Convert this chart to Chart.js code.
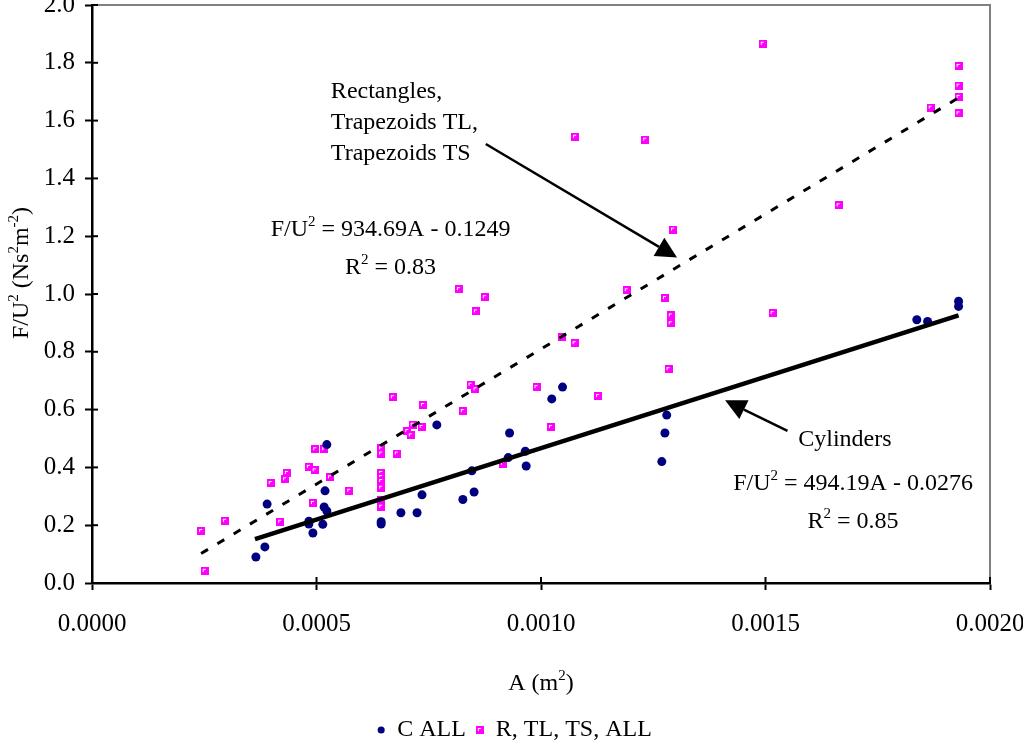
<!DOCTYPE html>
<html>
<head>
<meta charset="utf-8">
<script src="https://cdn.jsdelivr.net/npm/chart.js@4.4.0/dist/chart.umd.min.js"></script>
<style>
html, body { margin: 0; padding: 0; background: #fff; }
#wrap { width: 1023px; height: 744px; }
</style>
</head>
<body>
<div id="wrap"><canvas id="drag-chart"></canvas></div>
<script>
// cylinders (C ALL)
const cylArea = [0.000365, 0.000385, 0.000390, 0.000483, 0.000483, 0.000492, 0.000519, 0.000523, 0.000517, 0.000523,
    0.000514, 0.000644, 0.000644, 0.000688, 0.000724, 0.000735, 0.000768, 0.000826, 0.000851, 0.000846,
    0.000930, 0.000927, 0.000965, 0.000967, 0.001024, 0.001048, 0.001269, 0.001276, 0.001280, 0.001837,
    0.001861, 0.001930, 0.001930];
const cylForce = [0.090, 0.125, 0.273, 0.214, 0.204, 0.173, 0.319, 0.479, 0.263, 0.249,
    0.203, 0.204, 0.212, 0.243, 0.243, 0.305, 0.547, 0.289, 0.315, 0.388,
    0.519, 0.434, 0.456, 0.405, 0.637, 0.678, 0.420, 0.519, 0.581, 0.911,
    0.905, 0.975, 0.957];

// rectangles + trapezoids (R, TL, TS, ALL)
const rectArea = [0.000243, 0.000251, 0.000296, 0.000398, 0.000419, 0.000430, 0.000434, 0.000483, 0.000492, 0.000496,
    0.000497, 0.000517, 0.000530, 0.000573, 0.000644, 0.000644, 0.000644, 0.000644, 0.000644, 0.000644,
    0.000644, 0.000644, 0.000670, 0.000679, 0.000702, 0.000710, 0.000714, 0.000734, 0.000737, 0.000817,
    0.000826, 0.000843, 0.000854, 0.000855, 0.000875, 0.000915, 0.000990, 0.001022, 0.001046, 0.001075,
    0.001076, 0.001127, 0.001191, 0.001232, 0.001276, 0.001284, 0.001289, 0.001289, 0.001294, 0.001494,
    0.001516, 0.001663, 0.001868, 0.001930, 0.001930, 0.001930, 0.001930];
const rectForce = [0.180, 0.042, 0.215, 0.346, 0.212, 0.359, 0.381, 0.402, 0.277, 0.390,
    0.463, 0.463, 0.366, 0.319, 0.466, 0.448, 0.381, 0.367, 0.353, 0.330,
    0.287, 0.264, 0.643, 0.448, 0.526, 0.511, 0.548, 0.540, 0.616, 1.017,
    0.595, 0.686, 0.670, 0.940, 0.989, 0.413, 0.678, 0.540, 0.850, 0.830,
    1.544, 0.647, 1.013, 1.534, 0.986, 0.740, 0.926, 0.899, 1.223, 1.866,
    0.934, 1.307, 1.645, 1.789, 1.721, 1.682, 1.625];

// trend line end points
const rectFitArea = [0.000243, 0.001930];
const rectFitForce = [0.102, 1.679];
const cylFitArea = [0.000363, 0.001930];
const cylFitForce = [0.152, 0.926];

const seriesNames = ['C ALL', 'R, TL, TS, ALL'];
const xTitle = [['A (m', false], ['2', true], [')', false]];
const yTitle = [['F/U', false], ['2', true], [' (Ns', false], ['2', true], ['m', false], ['-2', true], [')', false]];

const FONT = '"Liberation Serif", "Times New Roman", serif';
Chart.defaults.font.family = FONT;
Chart.defaults.font.size = 24;
Chart.defaults.color = '#000';

const toPoints = (xs, ys) => xs.map((v, i) => ({ x: v, y: ys[i] }));

// pink square with a small white corner mark
const pinkMark = document.createElement('canvas');
pinkMark.width = 8;
pinkMark.height = 8;
const pm = pinkMark.getContext('2d');
pm.fillStyle = '#ff00ff';
pm.fillRect(0, 0, 8, 8);
pm.fillStyle = '#ffffff';
pm.fillRect(2, 2, 3, 1);
pm.fillRect(2, 2, 1, 3);

function richText(ctx, parts, x, y, align) {
    const base = '24px ' + FONT, sup = '15px ' + FONT;
    let w = 0;
    parts.forEach(p => { ctx.font = p[1] ? sup : base; w += ctx.measureText(p[0]).width; });
    let cx = align === 'center' ? x - w / 2 : x;
    parts.forEach(p => {
        ctx.font = p[1] ? sup : base;
        ctx.fillText(p[0], cx, p[1] ? y - 10 : y);
        cx += ctx.measureText(p[0]).width;
    });
}

function arrow(ctx, x0, y0, x1, y1) {
    const ang = Math.atan2(y1 - y0, x1 - x0);
    const len = 21, half = 10.5;
    const bx = x1 - len * Math.cos(ang), by = y1 - len * Math.sin(ang);
    ctx.lineWidth = 2.5;
    ctx.beginPath();
    ctx.moveTo(x0, y0);
    ctx.lineTo(bx, by);
    ctx.stroke();
    ctx.beginPath();
    ctx.moveTo(x1, y1);
    ctx.lineTo(bx - half * Math.sin(ang), by + half * Math.cos(ang));
    ctx.lineTo(bx + half * Math.sin(ang), by - half * Math.cos(ang));
    ctx.closePath();
    ctx.fill();
}

const decor = {
    id: 'decor',
    afterLayout(chart) {
        // legend sits a bit right of the canvas centre in the original
        chart.legend.left += 17;
        chart.legend.right += 17;
    },
    afterDraw(chart) {
        const { ctx, chartArea: a, scales: { x, y } } = chart;
        const px = v => x.getPixelForValue(v);
        const py = v => y.getPixelForValue(v);
        ctx.save();

        // grey frame on top and right
        ctx.strokeStyle = '#808080';
        ctx.lineWidth = 2;
        ctx.beginPath();
        ctx.moveTo(a.left, a.top);
        ctx.lineTo(a.right, a.top);
        ctx.lineTo(a.right, a.bottom);
        ctx.stroke();

        // tick marks cross the axes
        ctx.strokeStyle = '#000';
        ctx.lineWidth = 2;
        x.ticks.forEach(t => {
            const p = px(t.value);
            ctx.beginPath(); ctx.moveTo(p, a.bottom); ctx.lineTo(p, a.bottom - 6); ctx.stroke();
        });
        y.ticks.forEach(t => {
            const p = py(t.value);
            ctx.beginPath(); ctx.moveTo(a.left, p); ctx.lineTo(a.left + 6, p); ctx.stroke();
        });

        // callout arrows
        ctx.fillStyle = '#000';
        arrow(ctx, px(0.000877), py(1.519), px(0.001303), py(1.126));
        arrow(ctx, px(0.001549), py(0.526), px(0.001410), py(0.632));

        // callout text
        ctx.textBaseline = 'alphabetic';
        ctx.textAlign = 'left';
        ctx.font = '24px ' + FONT;
        const lx = px(0.000532), ly = py(1.679);
        ['Rectangles,', 'Trapezoids TL,', 'Trapezoids TS'].forEach((s, i) => ctx.fillText(s, lx, ly + i * 31));
        richText(ctx, [['F/U', false], ['2', true], [' = 934.69A - 0.1249', false]], px(0.000665), py(1.200), 'center');
        richText(ctx, [['R', false], ['2', true], [' = 0.83', false]], px(0.000665), py(1.070), 'center');

        ctx.font = '24px ' + FONT;
        ctx.fillText('Cylinders', px(0.001573), py(0.473));
        richText(ctx, [['F/U', false], ['2', true], [' = 494.19A - 0.0276', false]], px(0.001695), py(0.321), 'center');
        richText(ctx, [['R', false], ['2', true], [' = 0.85', false]], px(0.001695), py(0.192), 'center');

        // axis titles
        richText(ctx, xTitle, (a.left + a.right) / 2, 690, 'center');
        ctx.translate(28, 273);
        ctx.rotate(-Math.PI / 2);
        richText(ctx, yTitle, 0, 0, 'center');

        ctx.restore();
    }
};

const ctx = document.getElementById('drag-chart').getContext('2d');
const dragChart = new Chart(ctx, {
    type: 'scatter',
    data: {
        datasets: [
            {
                label: seriesNames[0],
                data: toPoints(cylArea, cylForce),
                pointStyle: 'circle',
                pointRadius: 4.5,
                backgroundColor: '#000080',
                borderColor: '#000080',
                borderWidth: 0,
                order: 2
            },
            {
                label: seriesNames[1],
                data: toPoints(rectArea, rectForce),
                pointStyle: pinkMark,
                pointRadius: 4,
                backgroundColor: '#ff00ff',
                borderColor: '#ff00ff',
                order: 3
            },
            {
                label: 'fit R',
                data: toPoints(rectFitArea, rectFitForce),
                showLine: true,
                pointRadius: 0,
                borderColor: '#000',
                borderWidth: 3,
                borderDash: [8, 11],
                order: 0
            },
            {
                label: 'fit C',
                data: toPoints(cylFitArea, cylFitForce),
                showLine: true,
                pointRadius: 0,
                borderColor: '#000',
                borderWidth: 4.5,
                order: 1
            }
        ]
    },
    options: {
        animation: false,
        maintainAspectRatio: false,
        layout: { padding: { left: 5, right: 33, top: 4, bottom: -8 } },
        plugins: {
            tooltip: { enabled: false },
            legend: {
                position: 'bottom',
                labels: {
                    usePointStyle: true,
                    boxWidth: 8,
                    boxHeight: 5,
                    padding: 10,
                    font: { size: 24 },
                    filter: item => item.datasetIndex < 2
                }
            }
        },
        scales: {
            x: {
                type: 'linear',
                min: 0,
                max: 0.002,
                border: { color: '#000', width: 2.5 },
                grid: { drawOnChartArea: false, tickLength: 7, tickColor: '#000', tickWidth: 2 },
                ticks: {
                    stepSize: 0.0005,
                    maxRotation: 0,
                    autoSkip: false,
                    padding: 19,
                    font: { size: 25 },
                    callback: v => v.toFixed(4)
                },
                afterFit: s => { s.height = 125; s.paddingLeft = 0; s.paddingRight = 0; }
            },
            y: {
                type: 'linear',
                min: 0,
                max: 2,
                border: { color: '#000', width: 2.5 },
                grid: { drawOnChartArea: false, tickLength: 7, tickColor: '#000', tickWidth: 2 },
                ticks: {
                    stepSize: 0.2,
                    padding: 10,
                    font: { size: 25 },
                    callback: v => v.toFixed(1)
                },
                afterFit: s => { s.width = 87; s.paddingTop = 0; s.paddingBottom = 0; }
            }
        }
    },
    plugins: [decor]
});
</script>
</body>
</html>
